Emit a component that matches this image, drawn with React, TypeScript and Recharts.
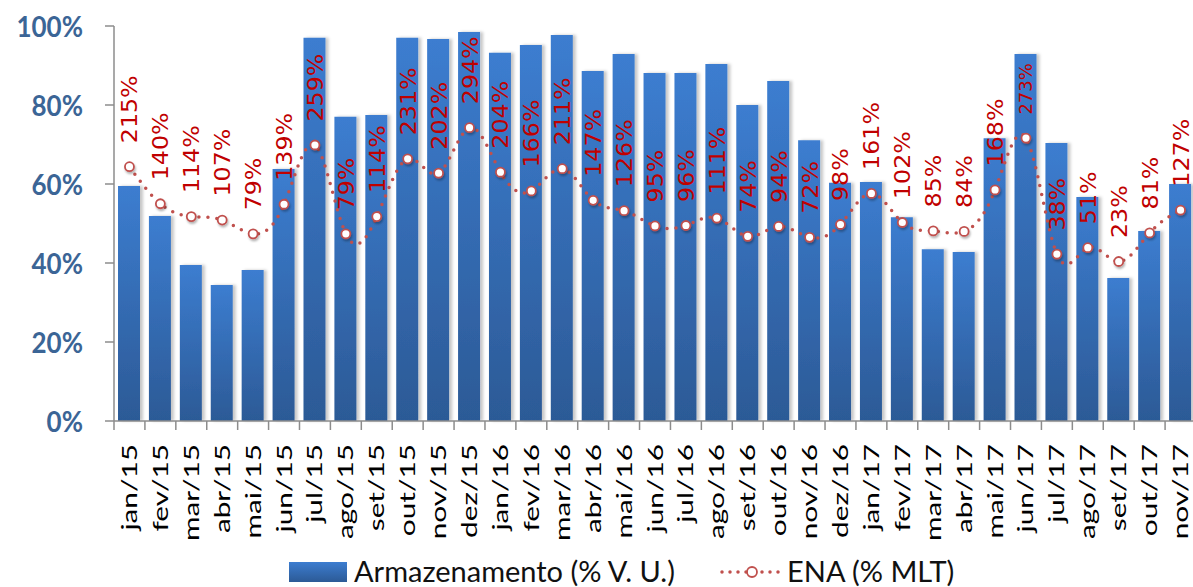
import { ComposedChart, Bar, Line, XAxis, YAxis, LabelList, Legend } from 'recharts';

const months = [
  'jan/15', 'fev/15', 'mar/15', 'abr/15', 'mai/15', 'jun/15', 'jul/15', 'ago/15', 'set/15', 'out/15', 'nov/15', 'dez/15',
  'jan/16', 'fev/16', 'mar/16', 'abr/16', 'mai/16', 'jun/16', 'jul/16', 'ago/16', 'set/16', 'out/16', 'nov/16', 'dez/16',
  'jan/17', 'fev/17', 'mar/17', 'abr/17', 'mai/17', 'jun/17', 'jul/17', 'ago/17', 'set/17', 'out/17', 'nov/17',
];

// Armazenamento (% V. U.)
const storage = [
  59.5, 51.9, 39.5, 34.4, 38.2, 63.8, 97.0, 77.0, 77.5, 97.0, 96.7, 98.5,
  93.2, 95.2, 97.7, 88.6, 92.9, 88.1, 88.1, 90.4, 80.0, 86.1, 71.1, 60.3,
  60.5, 51.6, 43.5, 42.8, 71.6, 92.9, 70.4, 56.7, 36.2, 48.1, 60.0,
];

// ENA (% MLT)
const ena = [
  215, 140, 114, 107, 79, 139, 259, 79, 114, 231, 202, 294,
  204, 166, 211, 147, 126, 95, 96, 111, 74, 94, 72, 98,
  161, 102, 85, 84, 168, 273, 38, 51, 23, 81, 127,
];

const yTicks = [0, 20, 40, 60, 80, 100];

const data = months.map((m, i) => ({ m, arm: storage[i], ena: ena[i] }));

const W = 1196;
const H = 587;
const Y_AXIS_W = 114;
const STEP = (W - Y_AXIS_W) / months.length;
const RED = '#c0504d';

// eslint-disable-next-line @typescript-eslint/no-explicit-any
const MonthTick = (props: any) => {
  const { x, y, payload, index } = props;
  const left = x - STEP / 2;
  return (
    <g>
      <line x1={left} x2={left} y1={y} y2={y + 9} stroke="#8c8c8c" strokeWidth={1.5} />
      {index === months.length - 1 && (
        <line x1={x + STEP / 2} x2={x + STEP / 2} y1={y} y2={y + 9} stroke="#8c8c8c" strokeWidth={1.5} />
      )}
      <text
        transform={`translate(${x + 7.5},${y + 23}) rotate(-90) scale(1.42,1)`}
        textAnchor="end"
        fontFamily="Lato"
        fontSize={21}
        fill="#000"
      >
        {payload.value}
      </text>
    </g>
  );
};

// eslint-disable-next-line @typescript-eslint/no-explicit-any
const YTick = (props: any) => {
  const { x, y, payload } = props;
  return (
    <text
      transform={`translate(${x},${y}) scale(1,1.12)`}
      textAnchor="end"
      dominantBaseline="central"
      fontFamily="Lato"
      fontWeight={700}
      fontSize={26}
      fill="#3b6596"
    >
      {`${payload.value}%`}
    </text>
  );
};

// eslint-disable-next-line @typescript-eslint/no-explicit-any
const EnaLabel = (props: any) => {
  const { x, y, value, index } = props;
  const small = months[index] === 'jun/17';
  return (
    <text
      transform={`translate(${x + (small ? 6.5 : 8)},${y - 23.5}) rotate(-90) scale(${small ? 1 : 1.08},1)`}
      textAnchor="start"
      fontFamily="DejaVu Sans"
      fontSize={small ? 18 : 22}
      fill="#c00000"
    >
      {`${value}%`}
    </text>
  );
};

const ChartLegend = () => (
  <div style={{ position: 'relative', height: 40, fontFamily: 'Lato', fontSize: 29, color: '#111' }}>
    <div
      style={{
        position: 'absolute', left: 289, top: 15, width: 58, height: 20,
        background: 'linear-gradient(#3c7dd0, #2c5a96)',
      }}
    />
    <span style={{ position: 'absolute', left: 354, top: 6, lineHeight: '36px', whiteSpace: 'nowrap' }}>
      Armazenamento (% V. U.)
    </span>
    <svg style={{ position: 'absolute', left: 718, top: 15 }} width={68} height={20}>
      <line x1={4} x2={64} y1={10} y2={10} stroke={RED} strokeWidth={3.5} strokeDasharray="0 8" strokeLinecap="round" />
      <circle cx={34} cy={10} r={5} fill="#fff" stroke={RED} strokeWidth={1.8} />
    </svg>
    <span style={{ position: 'absolute', left: 787, top: 6, lineHeight: '36px', whiteSpace: 'nowrap' }}>
      ENA (% MLT)
    </span>
  </div>
);

export default function App() {
  return (
    <div style={{ position: 'absolute', top: 0, left: 0, width: 1193, height: H, overflow: 'hidden', background: '#fff' }}>
      <ComposedChart width={W} height={H} data={data} margin={{ top: 26, right: 0, bottom: 0, left: 0 }}>
        <defs>
          <linearGradient id="barGrad" x1="0" y1="0" x2="0" y2="1">
            <stop offset="0%" stopColor="#3c7dd0" />
            <stop offset="100%" stopColor="#2c5a96" />
          </linearGradient>
          <filter id="barShadow" x="-20%" y="-5%" width="160%" height="110%">
            <feDropShadow dx="3" dy="0" stdDeviation="1.5" floodColor="#000" floodOpacity="0.22" />
          </filter>
          <filter id="dotShadow" x="-50%" y="-50%" width="200%" height="200%">
            <feDropShadow dx="1" dy="2" stdDeviation="1.2" floodColor="#000" floodOpacity="0.3" />
          </filter>
        </defs>
        <XAxis
          dataKey="m"
          interval={0}
          tickLine={false}
          tickSize={0}
          tickMargin={0}
          height={126}
          axisLine={{ stroke: '#8c8c8c', strokeWidth: 1.5 }}
          tick={<MonthTick />}
        />
        <YAxis
          yAxisId="left"
          width={Y_AXIS_W}
          domain={[0, 100]}
          ticks={yTicks}
          tickSize={9}
          tickMargin={22}
          axisLine={{ stroke: '#8c8c8c', strokeWidth: 1.5 }}
          tickLine={{ stroke: '#8c8c8c', strokeWidth: 1.5 }}
          tick={<YTick />}
        />
        <YAxis yAxisId="ena" orientation="right" hide domain={[-300, 500]} width={0} />
        <Legend verticalAlign="bottom" height={40} wrapperStyle={{ left: 0, width: W }} content={<ChartLegend />} />
        <Bar
          yAxisId="left"
          dataKey="arm"
          name="Armazenamento (% V. U.)"
          fill="url(#barGrad)"
          barSize={22}
          filter="url(#barShadow)"
          isAnimationActive={false}
        />
        <Line
          yAxisId="ena"
          dataKey="ena"
          name="ENA (% MLT)"
          type="natural"
          stroke={RED}
          strokeWidth={3.5}
          strokeDasharray="0 9"
          strokeLinecap="round"
          dot={{ r: 4.5, fill: '#fff', stroke: RED, strokeWidth: 1.8, strokeDasharray: 'none', filter: 'url(#dotShadow)' }}
          isAnimationActive={false}
        >
          <LabelList dataKey="ena" content={<EnaLabel />} />
        </Line>
      </ComposedChart>
    </div>
  );
}
